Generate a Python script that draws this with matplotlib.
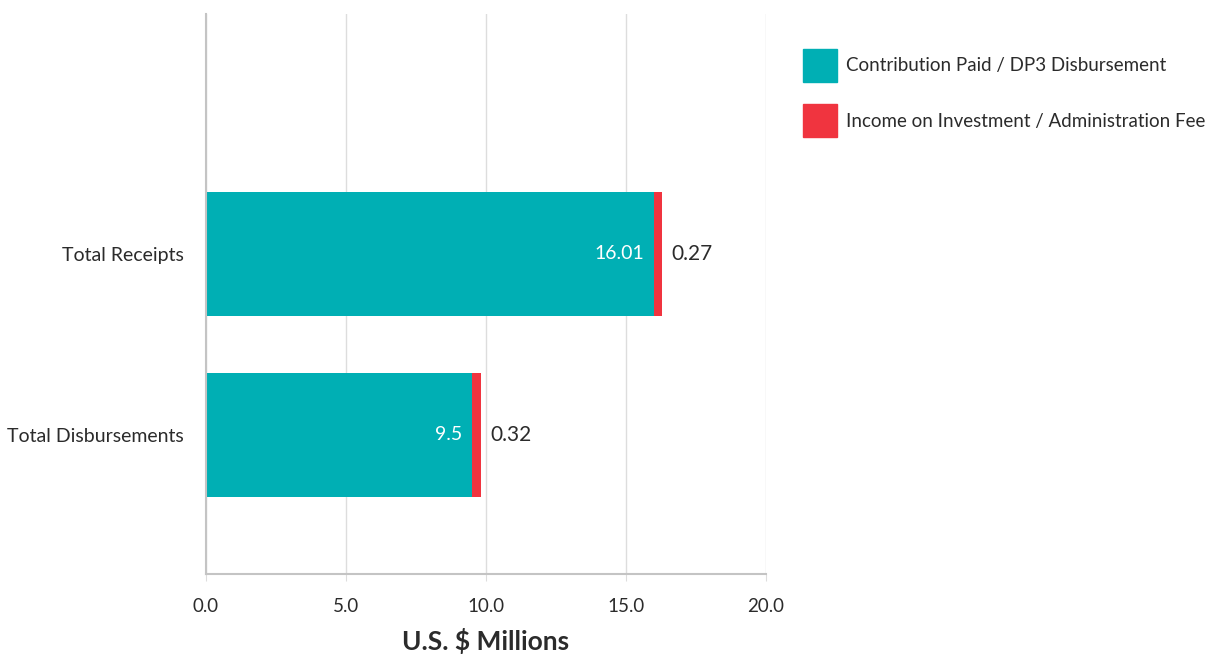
import numpy as np
import matplotlib
matplotlib.use('Agg')
import matplotlib.pyplot as plt
from matplotlib.patches import Patch

plt.rcParams['font.family'] = ['Lato', 'DejaVu Sans']

# Datos
categorias = ['Total Disbursements', 'Total Receipts']
contribucion = [9.5, 16.01]
ingresos = [0.32, 0.27]
ticks_x = [0, 5, 10, 15, 20]
leyenda = ['Contribution Paid / DP3 Disbursement',
           'Income on Investment / Administration Fee']

color_teal = '#00AFB4'
color_rojo = '#F0343F'
texto = '#2b2b2b'

fig = plt.figure(figsize=(12.26, 6.55), dpi=100)
ax = fig.add_axes([0.168, 0.1237, 0.4568, 0.855])

y = np.arange(len(categorias))
alto = 0.68
ax.barh(y, contribucion, height=alto, color=color_teal, zorder=3)
ax.barh(y, ingresos, left=contribucion, height=alto, color=color_rojo, zorder=3)

# Etiquetas de valores
for yi, c, r in zip(y, contribucion, ingresos):
    ax.text(c - 0.35, yi, f'{c:g}', color='white', ha='right', va='center',
            fontsize=14, zorder=4)
    ax.text(c + r + 0.35, yi, f'{r:.2f}', color=texto, ha='left', va='center',
            fontsize=15, zorder=4)

ax.set_xlim(0, 20)
ax.set_ylim(-0.768, 2.326)
ax.set_xticks(ticks_x)
ax.set_xticklabels([f'{t:.1f}' for t in ticks_x], fontsize=13.5, color=texto)
ax.set_yticks(y)
ax.set_yticklabels(categorias, fontsize=14, color=texto)
ax.tick_params(axis='y', length=0, pad=16)
ax.tick_params(axis='x', length=5, color='#dddddd', pad=12)

ax.grid(True, axis='x', color='#dddddd', linewidth=1, zorder=0)
for lado in ['top', 'right']:
    ax.spines[lado].set_visible(False)
for lado in ['left', 'bottom']:
    ax.spines[lado].set_color('#c4c4c4')
    ax.spines[lado].set_linewidth(1.5)
    ax.spines[lado].set_zorder(5)

ax.set_xlabel('U.S. $ Millions', fontsize=19, fontweight='bold', color=texto,
              labelpad=10)

handles = [Patch(color=color_teal), Patch(color=color_rojo)]
fig.legend(handles, leyenda, loc='upper left', bbox_to_anchor=(0.6415, 0.951),
           frameon=False, fontsize=13.5, handlelength=1.8, handleheight=2.33,
           labelspacing=1.2, handletextpad=0.5, labelcolor=texto)

fig.savefig('out.png', dpi=100)
